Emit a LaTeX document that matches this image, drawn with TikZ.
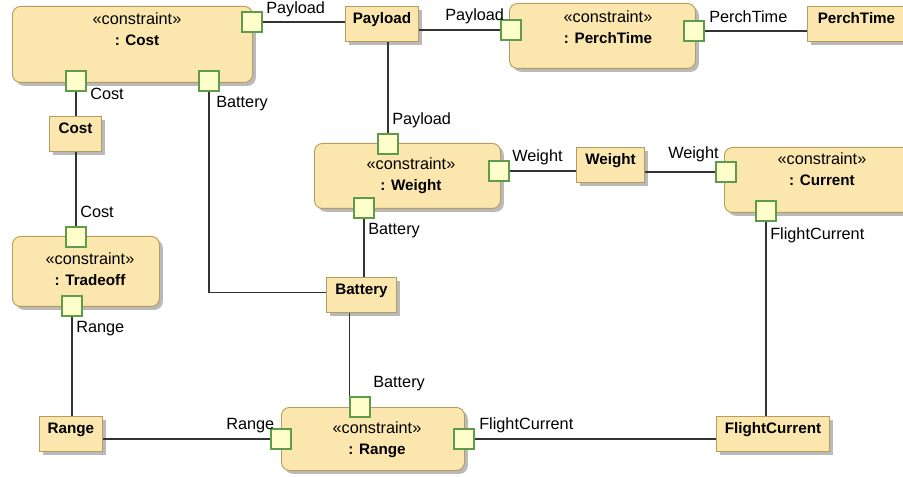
\documentclass[tikz,border=0pt]{standalone}
\usepackage{fontspec}
\setmainfont{Liberation Sans}
\usetikzlibrary{shadows}
\definecolor{blockfill}{HTML}{FBE6AD}
\definecolor{blockline}{HTML}{B49D5E}
\definecolor{portfill}{HTML}{FFFFCC}
\definecolor{portline}{HTML}{5E9C4A}
% bold part name inside a constraint box
\newcommand{\cname}[1]{{\fontsize{11.4pt}{15.75pt}\selectfont\bfseries #1}}
\tikzset{%
  % Specifications for style of nodes:
	base/.style = {draw=blockline, fill=blockfill, line width=0.7pt, anchor=north west,
	               drop shadow={shadow xshift=2.5pt, shadow yshift=-2.5pt, fill=black!27, opacity=1}},
	constraint/.style = {base, rounded corners=6pt, minimum height=48.75pt},
	block/.style = {base, inner xsep=0pt, inner ysep=0pt, text height=13pt, text depth=13.25pt,
	                font=\fontsize{11.4pt}{14pt}\selectfont\bfseries},
	title/.style = {align=center, inner sep=0pt},
	port/.style = {draw=portline, fill=portfill, line width=0.8pt, minimum size=15pt, inner sep=0pt},
	lbl/.style = {anchor=west, inner sep=0pt},
	wire/.style = {draw, black!80, line width=0.8pt}
}
\begin{document}
\begin{tikzpicture}[
    x=0.75pt, y=-0.75pt,         % work in screen pixels, top-left origin
    font=\fontsize{12.2pt}{15.75pt}\selectfont
]
  \useasboundingbox (0,0) rectangle (903,477);

  % Constraint properties
  \node (cost)     [constraint, minimum width=180pt, minimum height=57pt] at (12,6) {};
  \node (perch)    [constraint, minimum width=139.5pt] at (509,3) {};
  \node (weight)   [constraint, minimum width=139.5pt] at (314,143) {};
  \node (current)  [constraint, minimum width=147pt] at (724,147) {};
  \node (tradeoff) [constraint, minimum width=110.25pt, minimum height=52.5pt] at (12,236) {};
  \node (range)    [constraint, minimum width=137.25pt, minimum height=47.25pt] at (281,407) {};

  \node (cost-t)     [title] at (137,29.5) {«constraint»\\\cname{: Cost}};
  \node (perch-t)    [title] at (608,27)   {«constraint»\\\cname{: PerchTime}};
  \node (weight-t)   [title] at (411,176)  {«constraint»\\\cname{: Weight}};
  \node (current-t)  [title] at (822,169)  {«constraint»\\\cname{: Current}};
  \node (tradeoff-t) [title] at (90,269.5) {«constraint»\\\cname{: Tradeoff}};
  \node (range-t)    [title] at (377,440)  {«constraint»\\\cname{: Range}};

  % Value properties
  \node (payload)   [block, minimum width=54.75pt] at (345,6)   {Payload};
  \node (perchtime) [block, minimum width=73.5pt]  at (807,6)   {PerchTime};
  \node (costv)     [block, minimum width=39pt]    at (49,116)  {Cost};
  \node (weightv)   [block, minimum width=51pt]    at (576,147) {Weight};
  \node (battery)   [block, minimum width=52.5pt]  at (326,277) {Battery};
  \node (rangev)    [block, minimum width=47.25pt] at (39,416)  {Range};
  \node (flightcur) [block, minimum width=84.75pt] at (716,416) {FlightCurrent};

  % Constraint parameters
  \node (cost-pay)  [port] at (252,22)  {};
  \node (cost-cost) [port] at (76,81)   {};
  \node (cost-bat)  [port] at (209,81)  {};
  \node (perch-pay) [port] at (511,30)  {};
  \node (perch-pt)  [port] at (694,31)  {};
  \node (wt-pay)    [port] at (388,144) {};
  \node (wt-bat)    [port] at (364,208) {};
  \node (wt-wt)     [port] at (499,171) {};
  \node (cur-wt)    [port] at (726,172) {};
  \node (cur-fc)    [port] at (766,211) {};
  \node (tr-cost)   [port] at (76,237)  {};
  \node (tr-rng)    [port] at (72,306)  {};
  \node (rg-rng)    [port] at (281,439) {};
  \node (rg-bat)    [port] at (360,407) {};
  \node (rg-fc)     [port] at (464,439) {};

  % Parameter names
  \node (cost-pay-l)  [lbl] at (266,9)   {Payload};
  \node (cost-cost-l) [lbl] at (90,94)   {Cost};
  \node (cost-bat-l)  [lbl] at (216,104) {Battery};
  \node (perch-pay-l) [lbl] at (445,16)  {Payload};
  \node (perch-pt-l)  [lbl] at (709,17)  {PerchTime};
  \node (wt-pay-l)    [lbl] at (392,120) {Payload};
  \node (wt-wt-l)     [lbl] at (512,157) {Weight};
  \node (cur-wt-l)    [lbl] at (668,154) {Weight};
  \node (wt-bat-l)    [lbl] at (368,231) {Battery};
  \node (cur-fc-l)    [lbl] at (770,235) {FlightCurrent};
  \node (tr-cost-l)   [lbl] at (80,212)  {Cost};
  \node (tr-rng-l)    [lbl] at (76,329)  {Range};
  \node (rg-rng-l)    [lbl] at (226,426) {Range};
  \node (rg-bat-l)    [lbl] at (373,384) {Battery};
  \node (rg-fc-l)     [lbl] at (479,425) {FlightCurrent};

  % Binding connectors
  \draw [wire] (cost-pay.east) -- (cost-pay.east -| payload.west);
  \draw [wire] (perch-pay.west -| payload.east) -- (perch-pay.west);
  \draw [wire] (perch-pt.east) -- (perch-pt.east -| perchtime.west);
  \draw [wire] (wt-pay.north |- payload.south) -- (wt-pay.north);
  \draw [wire] (cost-cost.south) -- (cost-cost.south |- costv.north);
  \draw [wire] (tr-cost.north |- costv.south) -- (tr-cost.north);
  \draw [wire] (tr-rng.south) -- (tr-rng.south |- rangev.north);
  \draw [wire] (rg-rng.west -| rangev.east) -- (rg-rng.west);
  \draw [wire] (cost-bat.south) |- ([yshift=2pt]battery.west);
  \draw [wire] (wt-bat.south) -- (wt-bat.south |- battery.north);
  \draw [wire] (rg-bat.north west |- battery.south) -- (rg-bat.north west);
  \draw [wire] (wt-wt.east) -- (wt-wt.east -| weightv.west);
  \draw [wire] (cur-wt.west -| weightv.east) -- (cur-wt.west);
  \draw [wire] (cur-fc.south) -- (cur-fc.south |- flightcur.north);
  \draw [wire] (rg-fc.east) -- (rg-fc.east -| flightcur.west);
\end{tikzpicture}
\end{document}
